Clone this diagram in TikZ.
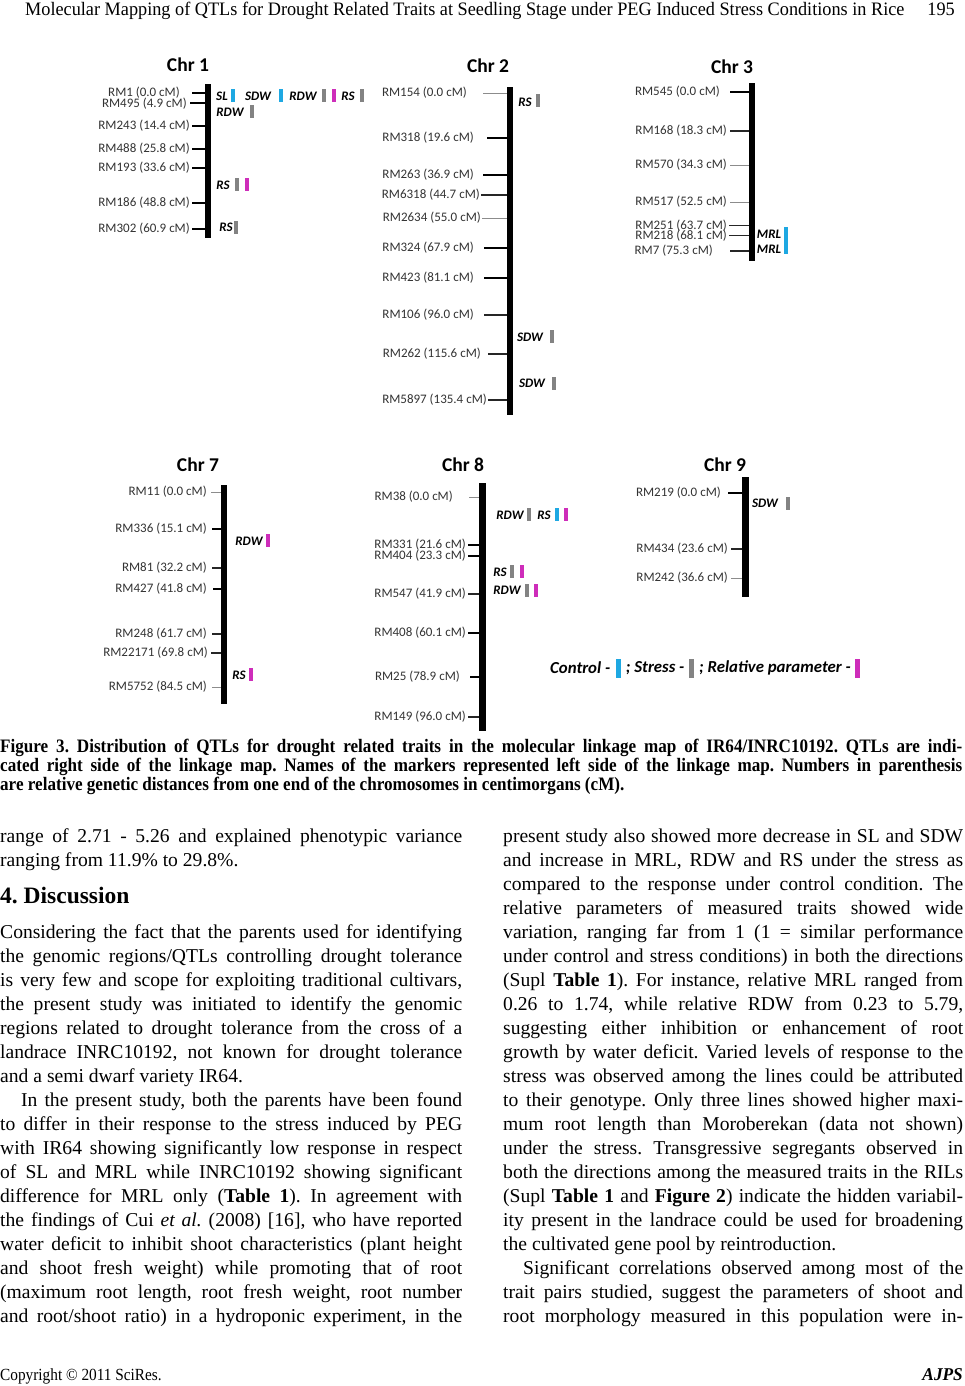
\documentclass[tikz,border=0pt]{standalone}
\usepackage{fontspec}
\usepackage{graphicx}
\setmainfont{Liberation Serif}
\newfontfamily\figsf{Carlito}
\newfontfamily\runfont[FakeStretch=0.96]{Liberation Serif}
\newfontfamily\capfont[FakeStretch=0.9]{Liberation Serif}
\usetikzlibrary{positioning}
\setlength{\parindent}{0pt}
\setlength{\parskip}{0pt}
\tolerance=9999 \hbadness=10000 \hfuzz=60pt
\frenchspacing

\definecolor{ctrlblue}{HTML}{1EA8E2}
\definecolor{strgrey}{HTML}{838383}
\definecolor{relmag}{HTML}{CE2DBA}

\tikzset{
  chrbar/.style={fill=black, inner sep=0pt, minimum width=6pt},
  chrtitle/.style={font=\figsf\bfseries\fontsize{19.5}{21}\selectfont, inner sep=0pt},
  mk/.style={font=\figsf\fontsize{13}{15}\selectfont, text=black!80, inner sep=0pt, anchor=east},
  tickA/.style={line width=2pt, black},
  tickB/.style={line width=1.3pt, black!85},
  tickC/.style={line width=0.7pt, black!45},
  qtl/.style={font=\figsf\bfseries\itshape\fontsize{13}{15}\selectfont, inner sep=0pt},
  qbar/.style={inner sep=0pt, minimum width=4.5pt, minimum height=13pt},
  ctrl/.style={qbar, fill=ctrlblue},
  strs/.style={qbar, fill=strgrey},
  rel/.style={qbar, fill=relmag},
  legtxt/.style={font=\figsf\bfseries\itshape\fontsize{16.8}{18}\selectfont, inner sep=0pt},
  legbar/.style={minimum width=5pt, minimum height=19pt},
  body/.style={font=\fontsize{19.6}{24}\selectfont, text width=462pt, align=justify, inner sep=0pt, anchor=north west},
}

\begin{document}
\begin{tikzpicture}[x=1pt, y=-1pt]
  \useasboundingbox (0,0) rectangle (965,1386);
  \fill[white] (0,0) rectangle (965,1386);

  % Running head
  \node[anchor=base west, inner sep=0pt, font=\runfont\fontsize{19}{20}\selectfont] (runhead) at (25,16)
    {Molecular Mapping of QTLs for Drought Related Traits at Seedling Stage under PEG Induced Stress Conditions in Rice};
  \node[anchor=base east, inner sep=0pt, font=\runfont\fontsize{19}{20}\selectfont] (pageno) at (955,16) {195};

  % Chr 1
  \node[chrtitle] (t1) at (188,65) {Chr 1};
  \node[chrbar, minimum height=154pt] (chr1) at (208,161) {};
  \node[mk] (m1a) at (180,93) {RM1 (0.0 cM)};
  \draw[tickA] ([xshift=12pt]m1a.east) -- (m1a -| chr1.west);
  \node[mk] (m1b) at (187,103.5) {RM495 (4.9 cM)};
  \draw[tickA] ([xshift=3pt]m1b.east) -- (m1b -| chr1.west);
  \node[mk] (m1c) at (190,126) {RM243 (14.4 cM)};
  \draw[tickA] ([xshift=2pt]m1c.east) -- (m1c -| chr1.west);
  \node[mk] (m1d) at (190,149) {RM488 (25.8 cM)};
  \draw[tickA] ([xshift=2pt]m1d.east) -- (m1d -| chr1.west);
  \node[mk] (m1e) at (190,168) {RM193 (33.6 cM)};
  \draw[tickA] ([xshift=2pt]m1e.east) -- (m1e -| chr1.west);
  \node[mk] (m1f) at (190,203) {RM186 (48.8 cM)};
  \draw[tickA] ([xshift=2pt]m1f.east) -- (m1f -| chr1.west);
  \node[mk] (m1g) at (190,229) {RM302 (60.9 cM)};
  \draw[tickA] ([xshift=2pt]m1g.east) -- (m1g -| chr1.west);
  % QTLs on Chr 1
  \node[qtl] (q1a) at (222,96) {SL};
  \node[ctrl] (q1ab) at (233,96) {};
  \node[qtl] (q1b) at (258,96) {SDW};
  \node[ctrl] (q1bb) at (281,96) {};
  \node[qtl] (q1c) at (303,96) {RDW};
  \node[strs] (q1cb) at (324,96) {};
  \node[rel] (q1cc) at (334,96) {};
  \node[qtl] (q1d) at (348,96) {RS};
  \node[strs] (q1db) at (362,96) {};
  \node[qtl] (q1e) at (230,112) {RDW};
  \node[strs] (q1eb) at (252,111.5) {};
  \node[qtl] (q1f) at (223,185) {RS};
  \node[strs] (q1fb) at (237,184) {};
  \node[rel] (q1fc) at (247,184) {};
  \node[qtl] (q1g) at (226,227) {RS};
  \node[strs] (q1gb) at (236,227) {};

  % Chr 2
  \node[chrtitle] (t2) at (488,66) {Chr 2};
  \node[chrbar, minimum height=328pt] (chr2) at (510,251) {};
  \node[mk] (m2a) at (467,93) {RM154 (0.0 cM)};
  \draw[tickC] ([xshift=16pt]m2a.east) -- (m2a -| chr2.west);
  \node[mk] (m2b) at (474,138) {RM318 (19.6 cM)};
  \draw[tickA] ([xshift=13pt]m2b.east) -- (m2b -| chr2.west);
  \node[mk] (m2c) at (474,175) {RM263 (36.9 cM)};
  \draw[tickA] ([xshift=9pt]m2c.east) -- (m2c -| chr2.west);
  \node[mk] (m2d) at (480,195) {RM6318 (44.7 cM)};
  \draw[tickB] ([xshift=1pt]m2d.east) -- (m2d -| chr2.west);
  \node[mk] (m2e) at (481,218) {RM2634 (55.0 cM)};
  \draw[tickC] ([xshift=1pt]m2e.east) -- (m2e -| chr2.west);
  \node[mk] (m2f) at (474,248) {RM324 (67.9 cM)};
  \draw[tickA] ([xshift=10pt]m2f.east) -- (m2f -| chr2.west);
  \node[mk] (m2g) at (474,278) {RM423 (81.1 cM)};
  \draw[tickA] ([xshift=10pt]m2g.east) -- (m2g -| chr2.west);
  \node[mk] (m2h) at (474,315) {RM106 (96.0 cM)};
  \draw[tickB] ([xshift=10pt]m2h.east) -- (m2h -| chr2.west);
  \node[mk] (m2i) at (481,354) {RM262 (115.6 cM)};
  \draw[tickB] ([xshift=7pt]m2i.east) -- (m2i -| chr2.west);
  \node[mk] (m2j) at (487,400) {RM5897 (135.4 cM)};
  \draw[tickB] ([xshift=1pt]m2j.east) -- (m2j -| chr2.west);
  % QTLs on Chr 2
  \node[qtl] (q2a) at (525,102) {RS};
  \node[strs] (q2ab) at (538,101) {};
  \node[qtl] (q2b) at (530,337) {SDW};
  \node[strs] (q2bb) at (552,336.5) {};
  \node[qtl] (q2c) at (532,383) {SDW};
  \node[strs] (q2cb) at (554,383) {};

  % Chr 3
  \node[chrtitle] (t3) at (732,67) {Chr 3};
  \node[chrbar, minimum height=178pt] (chr3) at (752,172) {};
  \node[mk] (m3a) at (720,92) {RM545 (0.0 cM)};
  \draw[tickA] ([xshift=10pt]m3a.east) -- (m3a -| chr3.west);
  \node[mk] (m3b) at (727,131) {RM168 (18.3 cM)};
  \draw[tickB] ([xshift=3pt]m3b.east) -- (m3b -| chr3.west);
  \node[mk] (m3c) at (727,165) {RM570 (34.3 cM)};
  \draw[tickC] ([xshift=3pt]m3c.east) -- (m3c -| chr3.west);
  \node[mk] (m3d) at (727,202) {RM517 (52.5 cM)};
  \draw[tickC] ([xshift=3pt]m3d.east) -- (m3d -| chr3.west);
  \node[mk] (m3e) at (727,225.5) {RM251 (63.7 cM)};
  \draw[tickB] ([xshift=2pt]m3e.east) -- (m3e -| chr3.west);
  \node[mk] (m3f) at (727,235.5) {RM218 (68.1 cM)};
  \draw[tickB] ([xshift=2pt]m3f.east) -- (m3f -| chr3.west);
  \node[mk] (m3g) at (713,251) {RM7 (75.3 cM)};
  \draw[tickB] ([xshift=17pt]m3g.east) -- (m3g -| chr3.west);
  % QTLs on Chr 3
  \node[qtl] (q3a) at (769,234) {MRL};
  \node[ctrl, minimum height=13.5pt] (q3ab) at (786,233.8) {};
  \node[qtl] (q3b) at (769,249) {MRL};
  \node[ctrl, minimum height=13.5pt] (q3bb) at (786,247.2) {};

  % Chr 7
  \node[chrtitle] (t7) at (198,465) {Chr 7};
  \node[chrbar, minimum height=219pt] (chr7) at (224,594.5) {};
  \node[mk] (m7a) at (207,492) {RM11 (0.0 cM)};
  \draw[tickC] ([xshift=4pt]m7a.east) -- (m7a -| chr7.west);
  \node[mk] (m7b) at (207,529) {RM336 (15.1 cM)};
  \draw[tickA] ([xshift=5pt]m7b.east) -- (m7b -| chr7.west);
  \node[mk] (m7c) at (207,568) {RM81 (32.2 cM)};
  \draw[tickB] ([xshift=5pt]m7c.east) -- (m7c -| chr7.west);
  \node[mk] (m7d) at (207,589) {RM427 (41.8 cM)};
  \draw[tickA] ([xshift=6pt]m7d.east) -- (m7d -| chr7.west);
  \node[mk] (m7e) at (207,634) {RM248 (61.7 cM)};
  \draw[tickB] ([xshift=5pt]m7e.east) -- (m7e -| chr7.west);
  \node[mk] (m7f) at (208,653) {RM22171 (69.8 cM)};
  \draw[tickB] ([xshift=3pt]m7f.east) -- (m7f -| chr7.west);
  \node[mk] (m7g) at (207,687) {RM5752 (84.5 cM)};
  \draw[tickC] ([xshift=5pt]m7g.east) -- (m7g -| chr7.west);
  % QTLs on Chr 7
  \node[qtl] (q7a) at (249,541) {RDW};
  \node[rel] (q7ab) at (268,540.5) {};
  \node[qtl] (q7b) at (239,675) {RS};
  \node[rel] (q7bb) at (251,674) {};

  % Chr 8
  \node[chrtitle] (t8) at (463,465) {Chr 8};
  \node[chrbar, minimum width=7pt, minimum height=248pt] (chr8) at (482.5,607) {};
  \node[mk] (m8a) at (453,497) {RM38 (0.0 cM)};
  \draw[tickC] ([xshift=16pt]m8a.east) -- (m8a -| chr8.west);
  \node[mk] (m8b) at (466,544.5) {RM331 (21.6 cM)};
  \draw[tickA] ([xshift=2pt]m8b.east) -- (m8b -| chr8.west);
  \node[mk] (m8c) at (466,556) {RM404 (23.3 cM)};
  \draw[tickA] ([xshift=2pt]m8c.east) -- (m8c -| chr8.west);
  \node[mk] (m8d) at (466,594) {RM547 (41.9 cM)};
  \draw[tickB] ([xshift=2pt]m8d.east) -- (m8d -| chr8.west);
  \node[mk] (m8e) at (466,633) {RM408 (60.1 cM)};
  \draw[tickA] ([xshift=2pt]m8e.east) -- (m8e -| chr8.west);
  \node[mk] (m8f) at (460,677) {RM25 (78.9 cM)};
  \draw[tickA] ([xshift=10pt]m8f.east) -- (m8f -| chr8.west);
  \node[mk] (m8g) at (466,717) {RM149 (96.0 cM)};
  \draw[tickB] ([xshift=2pt]m8g.east) -- (m8g -| chr8.west);
  % QTLs on Chr 8
  \node[qtl] (q8a) at (510,515) {RDW};
  \node[strs] (q8ab) at (529,514.5) {};
  \node[qtl] (q8b) at (544,515) {RS};
  \node[ctrl] (q8bb) at (557,514.5) {};
  \node[rel] (q8bc) at (566,514.5) {};
  \node[qtl] (q8c) at (500,572) {RS};
  \node[strs] (q8cb) at (512,571.5) {};
  \node[rel] (q8cc) at (522,571.5) {};
  \node[qtl] (q8d) at (507,590) {RDW};
  \node[strs] (q8db) at (527,590) {};
  \node[rel] (q8dc) at (536,590) {};

  % Chr 9
  \node[chrtitle] (t9) at (725,465) {Chr 9};
  \node[chrbar, minimum width=7pt, minimum height=120pt] (chr9) at (745.5,537) {};
  \node[mk] (m9a) at (721,493) {RM219 (0.0 cM)};
  \draw[tickA] ([xshift=7pt]m9a.east) -- (m9a -| chr9.west);
  \node[mk] (m9b) at (728,549) {RM434 (23.6 cM)};
  \draw[tickB] ([xshift=3pt]m9b.east) -- (m9b -| chr9.west);
  \node[mk] (m9c) at (728,578) {RM242 (36.6 cM)};
  \draw[tickC] ([xshift=3pt]m9c.east) -- (m9c -| chr9.west);
  % QTL on Chr 9
  \node[qtl] (q9a) at (765,503) {SDW};
  \node[strs] (q9ab) at (788,503) {};

  % Legend
  \node[legtxt, anchor=west] (legC) at (550,668) {Control -};
  \node[ctrl, legbar, right=5pt of legC] (legCb) {};
  \node[legtxt, right=5pt of legCb] (legS) {; Stress -};
  \node[strs, legbar, right=4pt of legS] (legSb) {};
  \node[legtxt, right=5pt of legSb] (legR) {; Relative parameter -};
  \node[rel, legbar, right=4pt of legR] (legRb) {};

  % Caption
  \node[anchor=north west, inner sep=0pt, text width=962pt, align=justify,
        font=\capfont\bfseries\fontsize{19}{19}\selectfont] (caption) at (0,738)
    {\rule{0pt}{14pt}Figure 3. Distribution of QTLs for drought related traits in the molecular linkage map of IR64/INRC10192. QTLs are indi-\linebreak cated right side of the linkage map. Names of the markers represented left side of the linkage map. Numbers in parenthesis\linebreak are relative genetic distances from one end of the chromosomes in centimorgans (cM).};

  % Left column
  \node[body] (txtA) at (0,828)
    {\rule{0pt}{14pt}range of 2.71 - 5.26 and explained phenotypic variance\linebreak ranging from 11.9\% to 29.8\%.};
  \node[anchor=base west, inner sep=0pt, font=\bfseries\fontsize{23.5}{26}\selectfont] (headDisc) at (0,903) {4. Discussion};
  \node[body] (txtB) at (0,924)
    {\rule{0pt}{14pt}Considering the fact that the parents used for identifying\linebreak the genomic regions/QTLs controlling drought tolerance\linebreak is very few and scope for exploiting traditional cultivars,\linebreak the present study was initiated to identify the genomic\linebreak regions related to drought tolerance from the cross of a\linebreak landrace INRC10192, not known for drought tolerance\linebreak and a semi dwarf variety IR64.\par
    \hspace*{21pt}In the present study, both the parents have been found\linebreak to differ in their response to the stress induced by PEG\linebreak with IR64 showing significantly low response in respect\linebreak of SL and MRL while INRC10192 showing significant\linebreak difference for MRL only (\textbf{Table 1}). In agreement with\linebreak the findings of Cui \textit{et al.} (2008) [16], who have reported\linebreak water deficit to inhibit shoot characteristics (plant height\linebreak and shoot fresh weight) while promoting that of root\linebreak (maximum root length, root fresh weight, root number\linebreak and root/shoot ratio) in a hydroponic experiment, in the\parfillskip=0pt\par};

  % Right column
  \node[body, text width=460pt] (txtD) at (503,828)
    {\rule{0pt}{14pt}present study also showed more decrease in SL and SDW\linebreak and increase in MRL, RDW and RS under the stress as\linebreak compared to the response under control condition. The\linebreak relative parameters of measured traits showed wide\linebreak variation, ranging far from 1 (1 = similar performance\linebreak under control and stress conditions) in both the directions\linebreak (Supl \textbf{Table 1}). For instance, relative MRL ranged from\linebreak 0.26 to 1.74, while relative RDW from 0.23 to 5.79,\linebreak suggesting either inhibition or enhancement of root\linebreak growth by water deficit. Varied levels of response to the\linebreak stress was observed among the lines could be attributed\linebreak to their genotype. Only three lines showed higher maxi-\linebreak mum root length than Moroberekan (data not shown)\linebreak under the stress. Transgressive segregants observed in\linebreak both the directions among the measured traits in the RILs\linebreak (Supl \textbf{Table 1} and \textbf{Figure 2}) indicate the hidden variabil-\linebreak ity present in the landrace could be used for broadening\linebreak the cultivated gene pool by reintroduction.\par
    \hspace*{20pt}Significant correlations observed among most of the\linebreak trait pairs studied, suggest the parameters of shoot and\linebreak root morphology measured in this population were in-\parfillskip=0pt\par};

  % Footer
  \node[anchor=base west, inner sep=0pt, font=\capfont\fontsize{17}{20}\selectfont] (copyr) at (0,1380) {Copyright \textcopyright\ 2011 SciRes.};
  \node[anchor=base east, inner sep=0pt, font=\runfont\bfseries\itshape\fontsize{18}{20}\selectfont] (journal) at (963,1380) {AJPS};
\end{tikzpicture}
\end{document}
